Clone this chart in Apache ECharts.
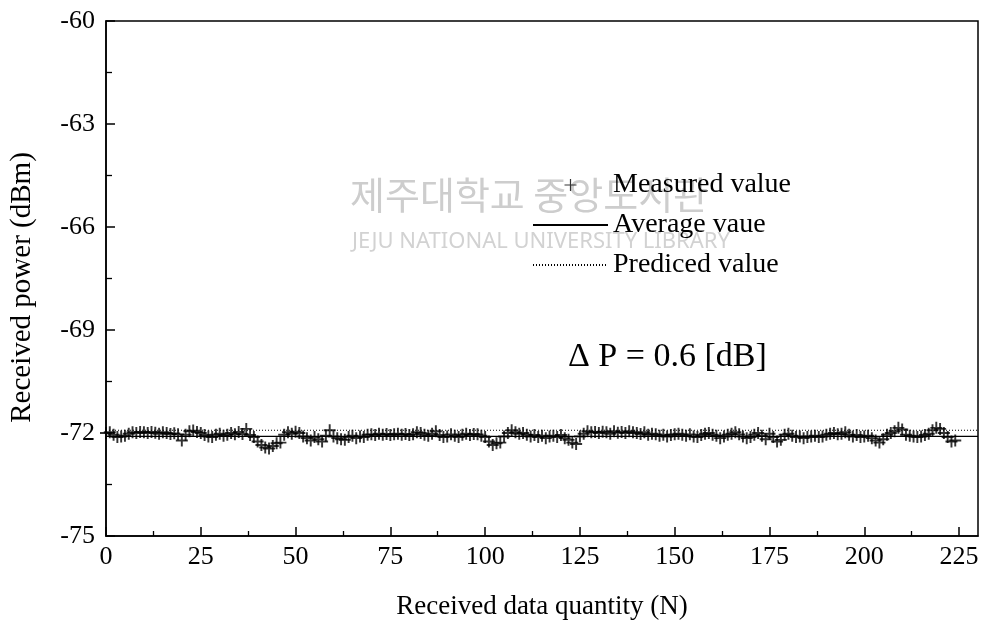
<!DOCTYPE html>
<html>
<head>
<meta charset="utf-8">
<script src="https://cdn.jsdelivr.net/npm/echarts@6/dist/echarts.min.js"></script>
<style>html,body{margin:0;padding:0;background:#fff;}#c{width:986px;height:628px;}</style>
</head>
<body>
<div id="c"></div>
<script>
var measured = [
-72.00,-71.98,-72.05,-72.12,-72.10,-72.08,-72.02,-71.98,-72.00,-71.97,
-71.98,-72.00,-71.97,-71.99,-72.02,-71.98,-72.00,-72.03,-72.01,-72.04,
-72.22,-72.05,-71.95,-71.93,-71.97,-72.00,-72.06,-72.10,-72.12,-72.05,
-72.02,-72.08,-72.05,-72.00,-72.04,-71.97,-72.03,-71.88,-72.06,-72.12,
-72.25,-72.35,-72.42,-72.45,-72.38,-72.30,-72.28,-72.05,-71.98,-72.02,
-71.96,-72.00,-72.10,-72.15,-72.22,-72.12,-72.18,-72.25,-72.08,-71.92,
-72.10,-72.15,-72.18,-72.20,-72.12,-72.08,-72.15,-72.10,-72.12,-72.05,
-72.04,-72.06,-72.02,-72.05,-72.03,-72.06,-72.04,-72.02,-72.05,-72.03,
-72.06,-72.04,-71.98,-72.00,-72.05,-72.08,-72.02,-71.95,-72.06,-72.12,
-72.10,-72.04,-72.08,-72.12,-72.05,-72.02,-72.06,-72.03,-72.04,-72.08,
-72.12,-72.25,-72.35,-72.30,-72.28,-72.10,-72.00,-71.92,-71.98,-72.02,
-72.00,-72.05,-72.10,-72.06,-72.12,-72.08,-72.15,-72.10,-72.08,-72.12,
-72.06,-72.15,-72.20,-72.28,-72.32,-72.10,-72.02,-71.95,-71.98,-71.97,
-72.00,-71.96,-71.98,-72.02,-71.95,-71.99,-71.97,-72.00,-71.95,-71.98,
-72.00,-72.03,-71.98,-72.05,-72.02,-72.04,-72.08,-72.05,-72.10,-72.06,
-72.04,-72.02,-72.05,-72.08,-72.04,-72.10,-72.12,-72.06,-72.02,-72.00,
-72.05,-72.08,-72.15,-72.10,-72.05,-72.02,-71.98,-72.04,-72.10,-72.15,
-72.12,-72.05,-72.00,-72.08,-72.18,-72.02,-72.12,-72.25,-72.20,-72.05,
-72.02,-72.08,-72.12,-72.10,-72.15,-72.12,-72.10,-72.08,-72.12,-72.10,
-72.05,-72.02,-72.00,-72.04,-72.02,-71.98,-72.05,-72.10,-72.06,-72.12,
-72.10,-72.08,-72.15,-72.22,-72.28,-72.18,-72.05,-72.00,-71.95,-71.85,
-71.90,-72.05,-72.08,-72.10,-72.12,-72.10,-72.06,-72.02,-71.92,-71.85,
-71.88,-72.00,-72.12,-72.25,-72.22
];
var averageValue = -72.1;
var predictedValue = -71.92;
var lineXRange = [0, 230];
var xTicks = [0, 25, 50, 75, 100, 125, 150, 175, 200, 225];
var seriesNames = ['Measured value', 'Average vaue', 'Prediced value'];
var deltaText = '\u0394 P = 0.6 [dB]';

var serif = 'Liberation Serif';
var plusPath = 'path://M8.4,0h3.2v8.4h8.4v3.2h-8.4v8.4h-3.2v-8.4h-8.4v-3.2h8.4z';
var plusLegend = 'path://M9,0h2v9h9v2h-9v9h-2v-9h-9v-2h9z';

var chart = echarts.init(document.getElementById('c'), null, {renderer: 'canvas'});
var option = {
  animation: false,
  backgroundColor: '#fff',
  grid: {left: 106, right: 8, top: 21, bottom: 92, outerBoundsMode: 'none', containLabel: false,
    show: true, borderColor: '#000', borderWidth: 1.5, backgroundColor: 'transparent'},
  graphic: [
    {type: 'text', left: 350, top: 176, z: 0, style: {text: '제주대학교 중앙도서관', font: '38px "Noto Sans CJK KR"', fill: '#cdcdcd'}},
    {type: 'text', left: 352, top: 231, z: 0, style: {text: 'JEJU NATIONAL UNIVERSITY LIBRARY', font: '22px "Noto Sans"', fill: '#d2d2d2'}}
  ],
  title: {
    text: deltaText, left: 563, top: 335,
    textStyle: {fontFamily: serif, fontSize: 34, fontWeight: 'normal', color: '#000'}
  },
  legend: {
    orient: 'vertical', left: 527, top: 166, itemWidth: 75, itemHeight: 12, itemGap: 12,
    textStyle: {fontFamily: serif, fontSize: 28, color: '#000'},
    data: [
      {name: seriesNames[0], icon: plusLegend, itemStyle: {color: '#000'}},
      {name: seriesNames[1], itemStyle: {opacity: 0}},
      {name: seriesNames[2], itemStyle: {opacity: 0}}
    ]
  },
  xAxis: {
    type: 'value', min: 0, max: 230, interval: 25,
    name: 'Received data quantity (N)', nameLocation: 'middle', nameGap: 57,
    nameTextStyle: {fontFamily: serif, fontSize: 27, color: '#000'},
    axisLine: {show: true, lineStyle: {color: '#000', width: 1.5}},
    axisTick: {show: true, inside: true, length: 9, lineStyle: {color: '#000', width: 1.5},
      customValues: xTicks},
    minorTick: {show: true, splitNumber: 2, length: 5, lineStyle: {color: '#000', width: 1.3}},
    axisLabel: {fontFamily: serif, fontSize: 26, color: '#000', margin: 8, customValues: xTicks},
    splitLine: {show: false}
  },
  yAxis: {
    type: 'value', min: -75, max: -60, interval: 3,
    name: 'Received power (dBm)', nameLocation: 'middle', nameGap: 69,
    nameTextStyle: {fontFamily: serif, fontSize: 29, color: '#000', padding: [0, 18, 0, 0]},
    axisLine: {show: true, lineStyle: {color: '#000', width: 1.5}},
    axisTick: {show: true, inside: true, length: 9, lineStyle: {color: '#000', width: 1.5}},
    minorTick: {show: true, splitNumber: 2, length: 6, lineStyle: {color: '#000', width: 1.3}},
    axisLabel: {fontFamily: serif, fontSize: 26, color: '#000', margin: 11},
    splitLine: {show: false}
  },
  series: [
    {
      name: seriesNames[0], type: 'scatter', symbol: plusPath, symbolSize: 12,
      itemStyle: {color: '#000'}, z: 5,
      data: measured.map(function (v, i) { return [i, v]; })
    },
    {
      name: seriesNames[1], type: 'line', symbol: 'none', z: 4,
      itemStyle: {color: '#000'},
      lineStyle: {color: '#000', width: 1.3, type: 'solid'},
      data: lineXRange.map(function (x) { return [x, averageValue]; })
    },
    {
      name: seriesNames[2], type: 'line', symbol: 'none', z: 4,
      itemStyle: {color: '#000'},
      lineStyle: {color: '#000', width: 1, type: [1, 2]},
      data: lineXRange.map(function (x) { return [x, predictedValue]; })
    }
  ]
};
chart.setOption(option);
</script>
</body>
</html>
